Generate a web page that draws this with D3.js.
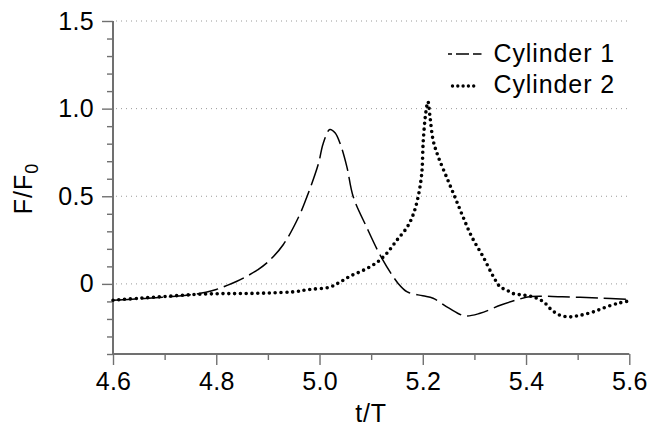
<!DOCTYPE html>
<html>
<head>
<meta charset="utf-8">
<script src="https://cdn.jsdelivr.net/npm/d3@7"></script>
<style>
  html, body { margin: 0; padding: 0; background: #fff; }
  svg { display: block; font-family: "Liberation Sans", Arial, Helvetica, sans-serif; }
</style>
</head>
<body>
<svg id="chart" width="651" height="432"></svg>
<script>
// ---- data ----
const cyl1T = [4.60, 4.65, 4.70, 4.75, 4.78, 4.80, 4.82, 4.84, 4.86, 4.88, 4.90, 4.93, 4.96, 4.976, 4.998, 5.007, 5.020, 5.030, 5.040, 5.053, 5.065, 5.091, 5.120, 5.153, 5.170, 5.200, 5.220, 5.250, 5.281, 5.311, 5.350, 5.380, 5.410, 5.470, 5.540, 5.600];
const cyl1F = [-0.093, -0.085, -0.075, -0.062, -0.048, -0.032, -0.010, 0.015, 0.045, 0.080, 0.125, 0.225, 0.385, 0.500, 0.687, 0.800, 0.881, 0.862, 0.800, 0.668, 0.500, 0.325, 0.150, 0.000, -0.046, -0.068, -0.082, -0.137, -0.182, -0.168, -0.122, -0.093, -0.072, -0.074, -0.080, -0.088];
const cyl2T = [4.60, 4.65, 4.70, 4.75, 4.80, 4.85, 4.90, 4.95, 4.98, 5.02, 5.04, 5.06, 5.085, 5.11, 5.13, 5.15, 5.17, 5.182, 5.191, 5.198, 5.201, 5.206, 5.210, 5.214, 5.220, 5.230, 5.246, 5.262, 5.278, 5.295, 5.317, 5.337, 5.350, 5.363, 5.375, 5.395, 5.414, 5.434, 5.450, 5.466, 5.485, 5.505, 5.530, 5.556, 5.582, 5.600];
const cyl2F = [-0.093, -0.082, -0.072, -0.062, -0.056, -0.055, -0.052, -0.045, -0.032, -0.018, 0.011, 0.045, 0.078, 0.120, 0.174, 0.250, 0.325, 0.400, 0.497, 0.630, 0.820, 0.980, 1.040, 0.953, 0.820, 0.725, 0.610, 0.497, 0.382, 0.268, 0.154, 0.040, -0.017, -0.036, -0.055, -0.064, -0.074, -0.103, -0.150, -0.179, -0.188, -0.179, -0.160, -0.131, -0.108, -0.097];
const xTicks = [4.6, 4.8, 5.0, 5.2, 5.4, 5.6];
const xMinor = [4.7, 4.9, 5.1, 5.3, 5.5];
const yTicks = [0, 0.5, 1.0, 1.5];
const yTickLabels = ["0", "0.5", "1.0", "1.5"];
const yMinor = [-0.4, -0.3, -0.2, -0.1, 0.1, 0.2, 0.3, 0.4, 0.6, 0.7, 0.8, 0.9, 1.1, 1.2, 1.3, 1.4];
const seriesNames = ["Cylinder 1", "Cylinder 2"];

// ---- layout ----
const svg = d3.select("#chart");
const mLeft = 113, mRight = 629.3, mTop = 21, mBottom = 354;
const x = d3.scaleLinear().domain([4.6, 5.6]).range([mLeft, mRight]);
const y = d3.scaleLinear().domain([-0.4, 1.5]).range([mBottom, mTop]);
const axisColor = "#707070";

// grid
svg.append("g").selectAll("line").data(yTicks).join("line")
  .attr("x1", mLeft + 3).attr("x2", mRight)
  .attr("y1", d => y(d)).attr("y2", d => y(d))
  .attr("stroke", "#9a9a9a").attr("stroke-width", 1)
  .attr("stroke-dasharray", "1,4");

// y axis
const yAxis = svg.append("g").attr("transform", `translate(${mLeft},0)`)
  .call(d3.axisLeft(y).tickValues(yTicks).tickSize(11).tickPadding(8)
    .tickFormat((d, i) => yTickLabels[i]));
const yAxisMinor = svg.append("g").attr("transform", `translate(${mLeft},0)`)
  .call(d3.axisLeft(y).tickValues(yMinor).tickSize(6).tickFormat(""));
// x axis
const xAxis = svg.append("g").attr("transform", `translate(0,${mBottom})`)
  .call(d3.axisBottom(x).tickValues(xTicks).tickSize(11).tickPadding(7)
    .tickFormat(d3.format(".1f")));
const xAxisMinor = svg.append("g").attr("transform", `translate(0,${mBottom})`)
  .call(d3.axisBottom(x).tickValues(xMinor).tickSize(6).tickFormat(""));

[yAxis, yAxisMinor, xAxis, xAxisMinor].forEach(g => {
  g.select(".domain").attr("stroke", axisColor).attr("stroke-width", 2);
  g.selectAll(".tick line").attr("stroke", axisColor).attr("stroke-width", 1.4);
  g.selectAll(".tick text").attr("fill", "#000").style("font-size", "25px")
    .style("letter-spacing", "0.3px")
    .style("font-family", "'Liberation Sans', Arial, sans-serif");
});
yAxisMinor.select(".domain").remove();
xAxisMinor.select(".domain").remove();
yAxis.select(".domain").attr("d", `M0,${mBottom}V${mTop}`);
xAxis.select(".domain").attr("d", `M${mLeft},0H${mRight}`);

// axis labels
svg.append("text").attr("x", (mLeft + mRight) / 2).attr("y", 421.5)
  .attr("text-anchor", "middle").style("font-size", "25px")
  .style("letter-spacing", "0.8px").attr("fill", "#000")
  .text("t/T");
const yl = svg.append("text")
  .attr("transform", `translate(31.5,${(mTop + mBottom) / 2 + 1}) rotate(-90)`)
  .attr("text-anchor", "middle").style("font-size", "25px")
  .style("letter-spacing", "1px").attr("fill", "#000");
yl.append("tspan").text("F/F");
yl.append("tspan").attr("dy", 6).style("font-size", "18px").text("0");

// lines
const line = d3.line().x(d => x(d[0])).y(d => y(d[1])).curve(d3.curveCatmullRom.alpha(0.5));
const d1 = cyl1T.map((t, i) => [t, cyl1F[i]]);
const d2 = cyl2T.map((t, i) => [t, cyl2F[i]]);

svg.append("path").datum(d1).attr("d", line)
  .attr("fill", "none").attr("stroke", "#000").attr("stroke-width", 1.5)
  .attr("stroke-dasharray", "22,6");
svg.append("path").datum(d2).attr("d", line)
  .attr("fill", "none").attr("stroke", "#000").attr("stroke-width", 3.6)
  .attr("stroke-linecap", "round").attr("stroke-dasharray", "0,5.8");

// legend
const leg = svg.append("g");
const legRows = [
  { name: seriesNames[0], y: 54, dash: "13,4", off: 9, w: 1.5, cap: "butt" },
  { name: seriesNames[1], y: 86, dash: "0,5.3", off: 0, w: 3.4, cap: "round" }
];
legRows.forEach((r, i) => {
  leg.append("line").attr("x1", i === 0 ? 448 : 452.5).attr("x2", i === 0 ? 481.5 : 479)
    .attr("y1", r.y).attr("y2", r.y)
    .attr("stroke", "#000").attr("stroke-width", r.w)
    .attr("stroke-linecap", r.cap)
    .attr("stroke-dasharray", r.dash).attr("stroke-dashoffset", r.off);
  leg.append("text").attr("x", 493.5).attr("y", i === 0 ? 61.5 : 92.5)
    .style("font-size", "25px").style("letter-spacing", "0.9px").attr("fill", "#000")
    .text(r.name);
});
</script>
</body>
</html>
